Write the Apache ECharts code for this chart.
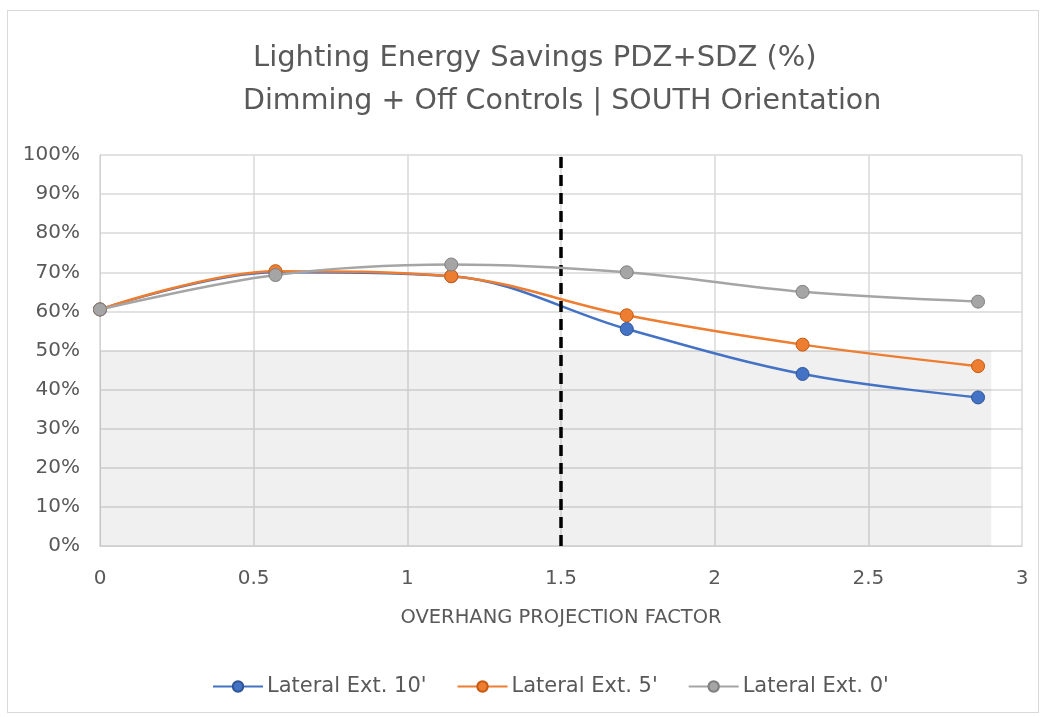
<!DOCTYPE html>
<html>
<head>
<meta charset="utf-8">
<script src="https://cdn.jsdelivr.net/npm/echarts@6/dist/echarts.min.js"></script>
<style>
  html, body { margin: 0; padding: 0; background: #fff; }
  #frame { position: absolute; left: 7px; top: 10px; width: 1032px; height: 703px; border: 1px solid #d9d9d9; box-sizing: border-box; }
  #chart { position: absolute; left: 0; top: 0; width: 1045px; height: 717px; }
</style>
</head>
<body>
<div id="frame"></div>
<div id="chart"></div>
<script>
// Overhang projection factors (x positions of the samples)
const projectionFactors = [0, 0.571, 1.143, 1.714, 2.286, 2.857];

// Lighting energy savings (%) per lateral extension
const lateral10 = [60.5, 70.0, 69.0, 55.5, 44.0, 38.0];
const lateral5  = [60.5, 70.3, 69.0, 59.0, 51.5, 46.0];
const lateral0  = [60.5, 69.3, 72.0, 70.0, 65.0, 62.5];

const seriesNames = ["Lateral Ext. 10'", "Lateral Ext. 5'", "Lateral Ext. 0'"];
const titleLines = ['Lighting Energy Savings PDZ+SDZ (%)', 'Dimming + Off Controls | SOUTH Orientation'];
const xAxisTitle = 'OVERHANG PROJECTION FACTOR';
const thresholdFactor = 1.5;

const colors = ['#4472C4', '#ED7D31', '#A5A5A5'];
const borders = ['#2F5597', '#C55A11', '#7F7F7F'];
const FONT = '"DejaVu Sans", "Open Sans", sans-serif';
const textColor = '#595959';

function pairs(ys) { return projectionFactors.map((x, i) => [x, ys[i]]); }

function lineSeries(name, ys, idx) {
  return {
    name: name,
    type: 'line',
    data: pairs(ys),
    smooth: 0.35,
    symbol: 'circle',
    symbolSize: 13,
    lineStyle: { color: colors[idx], width: 2.5 },
    itemStyle: { color: colors[idx], borderColor: borders[idx], borderWidth: 1 },
    z: 3 + idx
  };
}

const chart = echarts.init(document.getElementById('chart'), null, { renderer: 'canvas' });
const s10 = lineSeries(seriesNames[0], lateral10, 0);
s10.markLine = {
  silent: true,
  symbol: 'none',
  label: { show: false },
  lineStyle: { color: '#000', type: [11, 7], width: 3.5 },
  data: [{ xAxis: thresholdFactor }]
};
s10.markArea = {
  silent: true,
  itemStyle: { color: 'rgba(0,0,0,0.06)' },
  data: [[{ coord: [0, 0] }, { coord: [2.9, 50] }]]
};

chart.setOption({
  animation: false,
  backgroundColor: 'transparent',
  title: [
    { text: titleLines[0], left: 248, top: 39, textAlign: 'left',
      textStyle: { fontFamily: FONT, fontSize: 29, fontWeight: 'normal', color: textColor } },
    { text: titleLines[1], left: 238, top: 82, textAlign: 'left',
      textStyle: { fontFamily: FONT, fontSize: 28.5, fontWeight: 'normal', color: textColor } }
  ],
  grid: { left: 100, right: 23, top: 155, bottom: 171 },
  legend: {
    bottom: 15,
    left: 207,
    itemGap: 30,
    itemWidth: 50,
    itemHeight: 13,
    data: seriesNames,
    textStyle: { fontFamily: FONT, fontSize: 21, color: textColor, padding: [0, 0, 0, -1] }
  },
  xAxis: {
    type: 'value',
    min: 0,
    max: 3,
    interval: 0.5,
    name: xAxisTitle,
    nameLocation: 'middle',
    nameGap: 62,
    nameTextStyle: { fontFamily: FONT, fontSize: 19.5, color: textColor },
    axisLine: { show: true, lineStyle: { color: '#d0d0d0' } },
    axisTick: { show: false },
    axisLabel: { fontFamily: FONT, fontSize: 20, color: textColor, margin: 23 },
    splitLine: { show: true, lineStyle: { color: '#d9d9d9', width: 1.5 } }
  },
  yAxis: {
    type: 'value',
    min: 0,
    max: 100,
    interval: 10,
    axisLine: { show: true, lineStyle: { color: '#d0d0d0' } },
    axisTick: { show: false },
    axisLabel: { fontFamily: FONT, fontSize: 20, color: textColor, margin: 20, formatter: '{value}%' },
    splitLine: { show: true, lineStyle: { color: '#d9d9d9', width: 1.5 } }
  },
  series: [s10, lineSeries(seriesNames[1], lateral5, 1), lineSeries(seriesNames[2], lateral0, 2)]
});
</script>
</body>
</html>
